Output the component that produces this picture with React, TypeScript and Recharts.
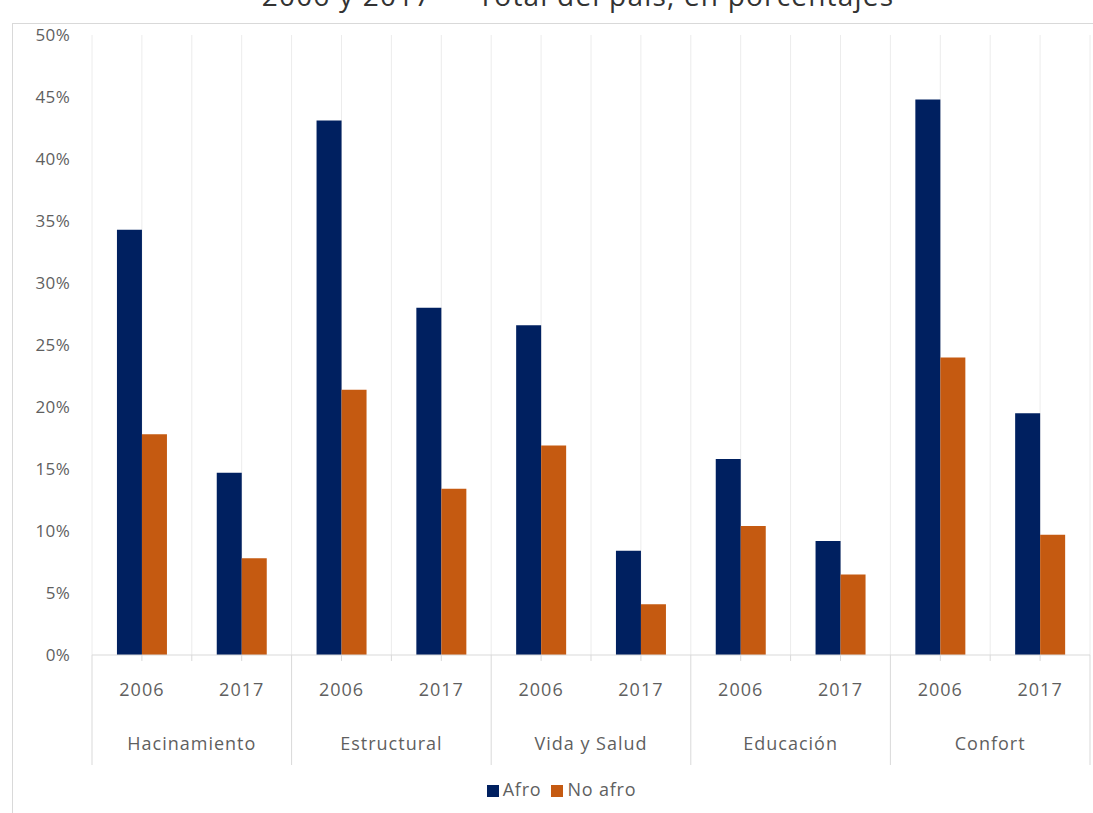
import { Bar, BarChart, CartesianGrid, Legend, XAxis, YAxis } from "recharts";

const groups = ["Hacinamiento", "Estructural", "Vida y Salud", "Educación", "Confort"];
const years = ["2006", "2017"];
const afro = [34.3, 14.7, 43.1, 28.0, 26.6, 8.4, 15.8, 9.2, 44.8, 19.5];
const noAfro = [17.8, 7.8, 21.4, 13.4, 16.9, 4.1, 10.4, 6.5, 24.0, 9.7];
const yTicks = [0, 5, 10, 15, 20, 25, 30, 35, 40, 45, 50];

const data = groups.flatMap((group, g) =>
  years.map((year, y) => ({
    key: `${group}-${year}`,
    group,
    year,
    afro: afro[g * 2 + y],
    noAfro: noAfro[g * 2 + y]
  }))
);

const W = 1093;
const H = 813;
const LEFT = 92;
const RIGHT = 3;
const TOP = 35;
const XH = 158;
const band = (W - LEFT - RIGHT) / data.length;
const font = "'Open Sans', sans-serif";
const grey = "#5f5f5f";
const lineColor = "#d9d9d9";

const GroupTick = (props) => {
  const { x, y, payload } = props;
  const i = payload.index;
  const row = data[i];
  const first = i % 2 === 0;
  return (
    <g>
      <line x1={x} x2={x} y1={y} y2={y + 6} stroke={lineColor} />
      {first ? (
        <>
          <line x1={x - band / 2} x2={x - band / 2} y1={y} y2={y + 110} stroke={lineColor} />
          <line x1={x + band / 2} x2={x + band / 2} y1={y} y2={y + 6} stroke={lineColor} />
          <text
            x={x + band / 2}
            y={y + 95}
            textAnchor="middle"
            fill={grey}
            fontSize={18}
            letterSpacing={1}
            fontFamily={font}
          >
            {row.group}
          </text>
        </>
      ) : i === data.length - 1 ? (
        <line x1={x + band / 2} x2={x + band / 2} y1={y} y2={y + 110} stroke={lineColor} />
      ) : null}
      <text
        x={x}
        y={y + 41}
        textAnchor="middle"
        fill={grey}
        fontSize={18}
        letterSpacing={1}
        fontFamily={font}
      >
        {row.year}
      </text>
    </g>
  );
};

const gridLines = ({ offset }) =>
  Array.from({ length: data.length * 2 + 1 }, (_, k) => offset.left + (k * offset.width) / (data.length * 2));

export default function App() {
  return (
    <div
      style={{
        position: "absolute",
        left: 0,
        top: 0,
        width: W,
        height: H,
        overflow: "hidden",
        background: "#fff"
      }}
    >
      <div
        style={{
          position: "absolute",
          left: 12,
          top: 23,
          width: 1200,
          height: 900,
          border: `1px solid ${lineColor}`
        }}
      />
      <div
        style={{
          position: "absolute",
          left: 0,
          width: 1156,
          top: -24,
          textAlign: "center",
          fontFamily: font,
          fontSize: 28,
          letterSpacing: 1.2,
          color: "#333"
        }}
      >
        2006 y 2017 — Total del país, en porcentajes
      </div>
      <BarChart
        width={W}
        height={H}
        data={data}
        margin={{ top: TOP, right: RIGHT, left: 0, bottom: 0 }}
        barCategoryGap="25%"
        barGap={0}
      >
        <CartesianGrid horizontal={false} stroke="#ececec" verticalCoordinatesGenerator={gridLines} />
        <XAxis
          dataKey="key"
          height={XH}
          interval={0}
          tickLine={false}
          tickSize={0}
          tickMargin={0}
          axisLine={{ stroke: lineColor }}
          tick={<GroupTick />}
        />
        <YAxis
          width={LEFT}
          domain={[0, 50]}
          ticks={yTicks}
          tickFormatter={(v) => `${v}%`}
          axisLine={false}
          tickLine={false}
          tickSize={0}
          tickMargin={22}
          tick={{ fill: grey, fontSize: 17, fontFamily: font, letterSpacing: 0.3 }}
        />
        <Legend
          verticalAlign="middle"
          layout="horizontal"
          align="center"
          iconType="square"
          iconSize={12}
          wrapperStyle={{ top: 777, left: 40, width: 1053, fontFamily: font, fontSize: 18, letterSpacing: 0.8 }}
          formatter={(value) => <span style={{ color: grey }}>{value}</span>}
        />
        <Bar dataKey="afro" name="Afro" fill="#002060" isAnimationActive={false} />
        <Bar dataKey="noAfro" name="No afro" fill="#c55a11" isAnimationActive={false} />
      </BarChart>
    </div>
  );
}
